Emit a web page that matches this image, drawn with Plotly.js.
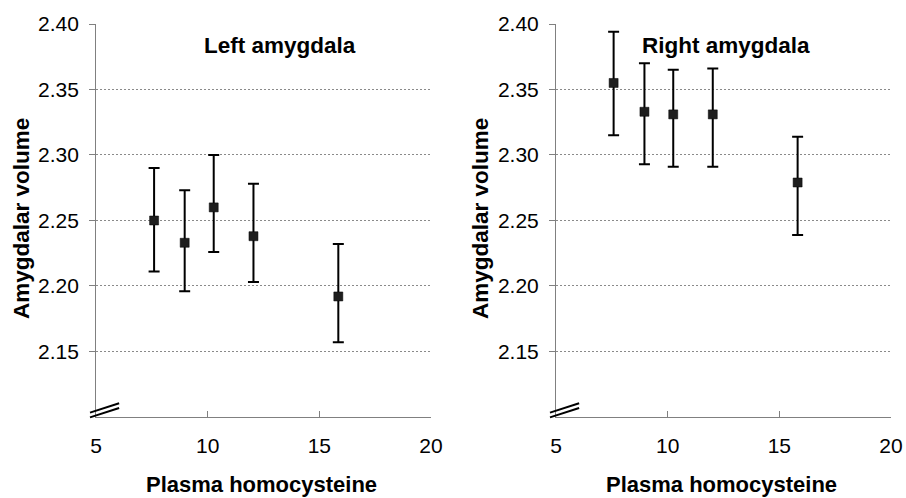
<!DOCTYPE html>
<html>
<head>
<meta charset="utf-8">
<script src="https://cdn.plot.ly/plotly-3.0.1.min.js"></script>
<style>html,body{margin:0;padding:0;background:#fff;}#chart{width:906px;height:498px;}</style>
</head>
<body>
<div id="chart"></div>
<script>
// Plasma homocysteine group means (x)
var leftX = [7.6, 8.97, 10.27, 12.05, 15.85];
var leftY = [2.250, 2.233, 2.260, 2.238, 2.192];
var leftUpper = [2.290, 2.273, 2.300, 2.278, 2.232];
var leftLower = [2.211, 2.196, 2.226, 2.203, 2.157];

var rightX = [7.58, 8.96, 10.25, 12.02, 15.82];
var rightY = [2.355, 2.333, 2.331, 2.331, 2.279];
var rightUpper = [2.394, 2.370, 2.365, 2.366, 2.314];
var rightLower = [2.315, 2.293, 2.291, 2.291, 2.239];

var xTicks = [5, 10, 15, 20];
var yTicks = [2.15, 2.20, 2.25, 2.30, 2.35, 2.40];
var yTickText = ['2.15', '2.20', '2.25', '2.30', '2.35', '2.40'];

function diff(a, b) { return a.map(function (v, i) { return +(v - b[i]).toFixed(4); }); }

function trace(x, y, up, lo, xa, ya) {
  return {
    type: 'scatter', mode: 'markers', x: x, y: y, xaxis: xa, yaxis: ya,
    marker: { symbol: 'square', size: 9, color: '#1e1e1e', line: { color: '#000', width: 0.5 } },
    error_y: { type: 'data', symmetric: false, array: diff(up, y), arrayminus: diff(y, lo),
      color: '#000', thickness: 2, width: 5.5 },
    showlegend: false, hoverinfo: 'x+y'
  };
}

var font = { family: 'Liberation Sans, Arial, sans-serif', size: 21, color: '#000' };

function xaxis(dom, anchor) {
  return { domain: dom, anchor: anchor, range: [5, 20], tickvals: xTicks, ticktext: xTicks.map(String),
    showgrid: false, zeroline: false, showline: true, linecolor: '#808080', linewidth: 1,
    ticks: 'inside', ticklen: 6, tickcolor: '#808080', tickfont: font, ticklabelstandoff: 10, fixedrange: true };
}
function yaxis(anchor) {
  return { domain: [0.1627, 0.9518], anchor: anchor, range: [2.10, 2.40], tickvals: yTicks, ticktext: yTickText,
    showgrid: true, gridcolor: '#8a8a8a', griddash: '2px,2px', gridwidth: 1,
    zeroline: false, showline: true, linecolor: '#808080', linewidth: 1,
    ticks: 'outside', ticklen: 6, tickcolor: '#808080', tickfont: font, ticklabelstandoff: 6, fixedrange: true };
}

var boldFont = { family: 'Liberation Sans, Arial, sans-serif', size: 22.5, color: '#000', weight: 'bold' };
var bottomFont = { family: 'Liberation Sans, Arial, sans-serif', size: 22, color: '#000', weight: 'bold' };

function breakShapes(xa, ya) {
  return [
    { type: 'line', xref: xa + ' domain', yref: ya + ' domain', x0: -0.018, y0: 0.011, x1: 0.069, y1: 0.035, line: { color: '#000', width: 2 } },
    { type: 'line', xref: xa + ' domain', yref: ya + ' domain', x0: -0.018, y0: -0.001, x1: 0.069, y1: 0.023, line: { color: '#000', width: 2 } }
  ];
}

var layout = {
  width: 906, height: 498,
  margin: { l: 0, r: 0, t: 0, b: 0 },
  paper_bgcolor: '#fff', plot_bgcolor: '#fff',
  xaxis: xaxis([0.106, 0.4757], 'y'),
  yaxis: yaxis('x'),
  xaxis2: xaxis([0.6137, 0.9834], 'y2'),
  yaxis2: yaxis('x2'),
  shapes: breakShapes('x', 'y').concat(breakShapes('x2', 'y2')),
  annotations: [
    { text: '<b>Left amygdala</b>', xref: 'paper', yref: 'paper', x: 280 / 906, y: 1 - 45 / 498, showarrow: false, font: boldFont, xanchor: 'center', yanchor: 'middle' },
    { text: '<b>Right amygdala</b>', xref: 'paper', yref: 'paper', x: 726 / 906, y: 1 - 45 / 498, showarrow: false, font: boldFont, xanchor: 'center', yanchor: 'middle' },
    { text: '<b>Plasma homocysteine</b>', xref: 'paper', yref: 'paper', x: 261 / 906, y: 1 - 484 / 498, showarrow: false, font: bottomFont, xanchor: 'center', yanchor: 'middle' },
    { text: '<b>Plasma homocysteine</b>', xref: 'paper', yref: 'paper', x: 721 / 906, y: 1 - 484 / 498, showarrow: false, font: bottomFont, xanchor: 'center', yanchor: 'middle' },
    { text: '<b>Amygdalar volume</b>', xref: 'paper', yref: 'paper', x: 22 / 906, y: 1 - 219 / 498, showarrow: false, font: boldFont, textangle: -90, xanchor: 'center', yanchor: 'middle' },
    { text: '<b>Amygdalar volume</b>', xref: 'paper', yref: 'paper', x: 481 / 906, y: 1 - 219 / 498, showarrow: false, font: boldFont, textangle: -90, xanchor: 'center', yanchor: 'middle' }
  ]
};

Plotly.newPlot('chart', [
  trace(leftX, leftY, leftUpper, leftLower, 'x', 'y'),
  trace(rightX, rightY, rightUpper, rightLower, 'x2', 'y2')
], layout, { displayModeBar: false, staticPlot: true });
</script>
</body>
</html>
